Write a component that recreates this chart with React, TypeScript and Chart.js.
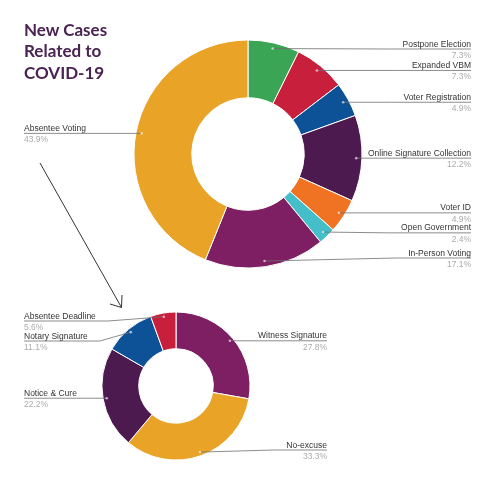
import React, { useEffect, useRef } from "react";
import { Chart, registerables } from "chart.js";

Chart.register(...registerables);

const topCategories = [
  "Postpone Election",
  "Expanded VBM",
  "Voter Registration",
  "Online Signature Collection",
  "Voter ID",
  "Open Government",
  "In-Person Voting",
  "Absentee Voting",
];
const topValues = [3, 3, 2, 5, 2, 1, 7, 18];
const topColors = ["#3aa655", "#c8203c", "#0d5196", "#4d1a4f", "#f07323", "#44bfc9", "#7d1f62", "#e9a326"];

const bottomCategories = ["Witness Signature", "No-excuse", "Notice & Cure", "Notary Signature", "Absentee Deadline"];
const bottomValues = [5, 6, 4, 2, 1];
const bottomColors = ["#7d1f62", "#e9a326", "#4d1a4f", "#0d5196", "#c8203c"];

const titleLines = ["New Cases", "Related to", "COVID-19"];

const LABEL_FONT = '8.5px "Liberation Sans", Arial, sans-serif';

const leaderLabels = {
  id: "leaderLabels",
  afterDatasetsDraw(chart: any, _args: any, opts: any) {
    const ctx = chart.ctx as CanvasRenderingContext2D;
    const meta = chart.getDatasetMeta(0);
    const ds = chart.data.datasets[0];
    const values = ds.data as number[];
    const total = values.reduce((a, b) => a + b, 0);
    const area = chart.chartArea;
    const minY = area.top + 9;
    const maxY = area.bottom - 10;
    const items = meta.data.map((arc: any, i: number) => {
      const p = arc.getProps(["x", "y", "startAngle", "endAngle", "outerRadius"], true);
      const mid = (p.startAngle + p.endAngle) / 2;
      const r = p.outerRadius * 0.95;
      const dx = p.x + Math.cos(mid) * r;
      const dy = p.y + Math.sin(mid) * r;
      return { i, dx, dy, left: Math.cos(mid) < 0, y: dy };
    });
    for (const side of [true, false]) {
      const list = items.filter((it: any) => it.left === side).sort((a: any, b: any) => a.dy - b.dy);
      let prev = -Infinity;
      for (const it of list) {
        it.y = Math.min(Math.max(it.dy, minY, prev + 20), maxY);
        prev = it.y;
      }
    }
    ctx.save();
    ctx.font = LABEL_FONT;
    for (const it of items) {
      const name = chart.data.labels[it.i] as string;
      const pct = ((values[it.i] / total) * 100).toFixed(1) + "%";
      const w = ctx.measureText(name).width;
      const x0 = it.left ? opts.leftX : opts.rightX;
      const elbow = it.left ? x0 + w + 12 : x0 - w - 12;
      ctx.strokeStyle = "#6e6e6e";
      ctx.lineWidth = 0.8;
      ctx.beginPath();
      ctx.moveTo(x0, it.y);
      ctx.lineTo(elbow, it.y);
      ctx.lineTo(it.dx, it.dy);
      ctx.stroke();
      ctx.fillStyle = "rgba(255,255,255,0.6)";
      ctx.beginPath();
      ctx.arc(it.dx, it.dy, 1.3, 0, Math.PI * 2);
      ctx.fill();
      ctx.textAlign = it.left ? "left" : "right";
      ctx.textBaseline = "alphabetic";
      ctx.fillStyle = "#333333";
      ctx.fillText(name, x0, it.y - 2.5);
      ctx.fillStyle = "#ababab";
      ctx.fillText(pct, x0, it.y + 9);
    }
    ctx.restore();
  },
};

function makeConfig(labels: string[], values: number[], colors: string[], radius: number, cutout: number, padding: any, leftX: number, rightX: number): any {
  return {
    type: "doughnut",
    data: {
      labels,
      datasets: [
        {
          data: values,
          backgroundColor: colors,
          borderColor: "#ffffff",
          borderWidth: 1,
        },
      ],
    },
    options: {
      responsive: false,
      animation: false,
      radius,
      cutout,
      layout: { padding },
      plugins: {
        legend: { display: false },
        tooltip: { enabled: false },
        title: { display: false },
        leaderLabels: { leftX, rightX },
      },
    },
    plugins: [leaderLabels],
  };
}

export default function App() {
  const topRef = useRef<HTMLCanvasElement>(null);
  const bottomRef = useRef<HTMLCanvasElement>(null);

  useEffect(() => {
    const top = new Chart(
      topRef.current!,
      makeConfig(topCategories, topValues, topColors, 114, 56, { left: 134, right: 138, top: 40, bottom: 220 }, 24, 471)
    );
    const bottom = new Chart(
      bottomRef.current!,
      makeConfig(bottomCategories, bottomValues, bottomColors, 74, 37, { left: 102, right: 250, top: 312, bottom: 28 }, 24, 327)
    );
    return () => {
      top.destroy();
      bottom.destroy();
    };
  }, []);

  const canvasStyle: React.CSSProperties = { position: "absolute", left: 0, top: 0, width: 500, height: 488 };

  return (
    <div style={{ position: "absolute", left: 0, top: 0, width: 500, height: 488, background: "#fff", overflow: "hidden" }}>
      <canvas ref={topRef} width={500} height={488} style={canvasStyle} />
      <canvas ref={bottomRef} width={500} height={488} style={canvasStyle} />
      <svg width={500} height={488} style={{ position: "absolute", left: 0, top: 0 }}>
        <g stroke="#333" strokeWidth={1} fill="none">
          <line x1={40} y1={163} x2={121.5} y2={307.5} />
          <polyline points="122,295 121.5,307.5 110,304" />
        </g>
      </svg>
      <div
        style={{
          position: "absolute",
          left: 24,
          top: 18.7,
          fontFamily: "Lato, sans-serif",
          fontWeight: 700,
          fontSize: 17,
          lineHeight: "21.5px",
          color: "#4a2352",
        }}
      >
        {titleLines.map((t) => (
          <div key={t}>{t}</div>
        ))}
      </div>
    </div>
  );
}
